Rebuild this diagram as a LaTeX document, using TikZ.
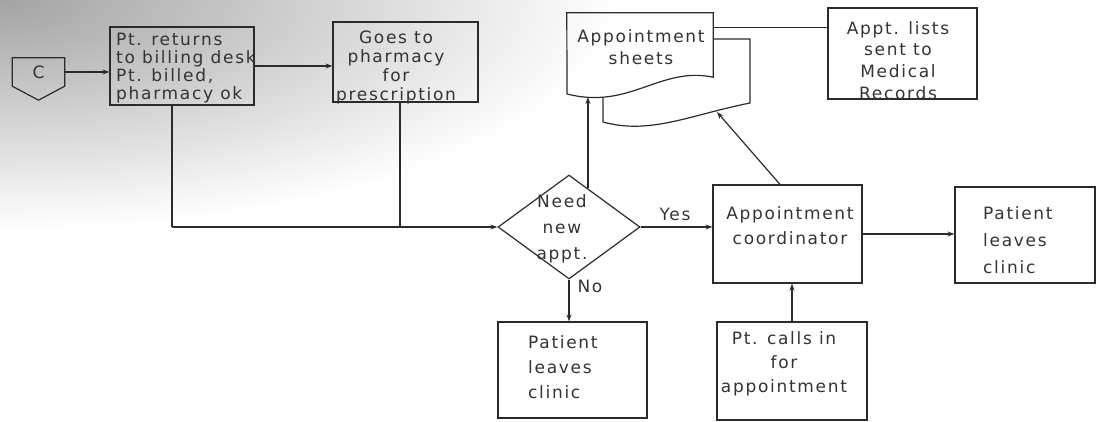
\documentclass[tikz,border=0pt]{standalone}
\usepackage{fontspec}
\setmainfont{DejaVu Sans}[LetterSpace=10]
\usetikzlibrary{shapes.geometric,arrows.meta,calc}
\definecolor{ink}{HTML}{2B2B2B}
\definecolor{txt}{HTML}{333333}
\begin{document}
\begin{tikzpicture}[x=1pt,y=-1pt,
  line/.style={draw=ink, line width=1.2pt},
  arr/.style={line, -{Stealth[length=7pt,width=5pt]}},
  box/.style={draw=ink, line width=1.2pt, rectangle, inner sep=0pt},
  lbl/.style={text=txt, font=\fontsize{17}{18}\selectfont, inner sep=0pt, align=center},
]
\useasboundingbox (0,0) rectangle (1097,422);

% paper shadow in the upper left corner
\begin{scope}
  \clip (0,0) rectangle (1097,422);
  \shade[inner color=black!36, outer color=white] (0,0) ellipse [x radius=620, y radius=230];
\end{scope}

% off-page connector
\node[lbl, minimum width=52pt, minimum height=28pt] (c) at (38.5,72) {C};
\draw[line] (c.north west) -- (c.north east) -- (c.south east) -- ($(c.south)+(0,14)$) -- (c.south west) -- cycle;

% billing desk and pharmacy
\node[box, minimum width=144pt, minimum height=78pt] (b1) at (182,66) {};
\node[lbl, align=left, anchor=west] (b1t) at (116,68.5) {Pt. returns\\to billing desk\\Pt. billed,\\pharmacy ok};
\node[box, minimum width=145pt, minimum height=80pt] (b2) at (405.5,62) {};
\node[lbl, font=\fontsize{17}{19}\selectfont] (b2t) at (396,67) {Goes to\\pharmacy\\for\\prescription};

\draw[arr] (c.east) -- (c.east -| b1.west);
\draw[arr] (b1.east) -- (b1.east -| b2.west);

% decision
\node[diamond, draw=ink, line width=1.2pt, minimum width=142pt, minimum height=104pt, inner sep=0pt] (d) at (569,227) {};
\node[lbl, font=\fontsize{17}{26}\selectfont] (dt) at (562,229) {Need\\new\\appt.};

\coordinate (j1) at (172,227);
\coordinate (j2) at (400,227);
\draw[line] (b1.south -| j1) -- (j1);
\draw[line] (b2.south -| j2) -- (j2);
\draw[arr] (j1) -- (d.west);

\node[lbl] (yes) at (675,214) {Yes};
\node[lbl] (no) at (590,286) {No};

% coordinator and exits
\node[box, minimum width=149pt, minimum height=98pt] (co) at (787.5,234) {};
\node[lbl, font=\fontsize{17}{25}\selectfont] (cot) at (790,226) {Appointment\\coordinator};
\node[box, minimum width=140pt, minimum height=96pt] (r) at (1025,235) {};
\node[lbl, align=left, anchor=west, font=\fontsize{17}{27}\selectfont] (rt) at (983,240) {Patient\\leaves\\clinic};
\node[box, minimum width=149pt, minimum height=96pt] (p1) at (572.5,370) {};
\node[lbl, align=left, anchor=west, font=\fontsize{17}{25}\selectfont] (p1t) at (528,367) {Patient\\leaves\\clinic};
\node[box, minimum width=150pt, minimum height=98pt] (pc) at (792,371) {};
\node[lbl, font=\fontsize{17}{24}\selectfont] (pct) at (784,364) {Pt. calls in\\for\\appointment};

\draw[arr] (d.east) -- (d.east -| co.west);
\draw[arr] (co.east) -- (co.east -| r.west);
\draw[arr] (d.south) -- (d.south |- p1.north);
\draw[arr] (pc.north) -- (pc.north |- co.south);

% appointment sheets (multiple documents)
\node[inner sep=0pt, minimum width=146pt, minimum height=64pt] (f) at (640,45) {};
\draw[line] (713,39) -- (750,39) -- (750,103) .. controls (690,115) and (650,135) .. (603,122) -- (603,97.5);
\draw[line] (f.north west) -- (f.north east) -- (f.south east) .. controls (660,66) and (630,110) .. (567,94) -- cycle;
\node[lbl, font=\fontsize{17}{22}\selectfont] (ft) at (641,47) {Appointment\\sheets};

\node[box, minimum width=149pt, minimum height=91pt] (al) at (902.5,53.5) {};
\node[lbl, font=\fontsize{17}{21.7}\selectfont] (alt) at (898,60.5) {Appt. lists\\sent to\\Medical\\Records};

\coordinate (fa) at ($(f.north east)+(0,15)$);
\draw[line] (fa) -- (fa -| al.west);

\coordinate (du) at ($(d.north)!0.264!(d.east)$);
\coordinate (fb) at (587,97);
\draw[arr] (du) -- (du |- fb);
\coordinate (kb) at (717,112);
\draw[arr] ($(co.north west)!0.45!(co.north east)$) -- (kb);
\end{tikzpicture}
\end{document}
